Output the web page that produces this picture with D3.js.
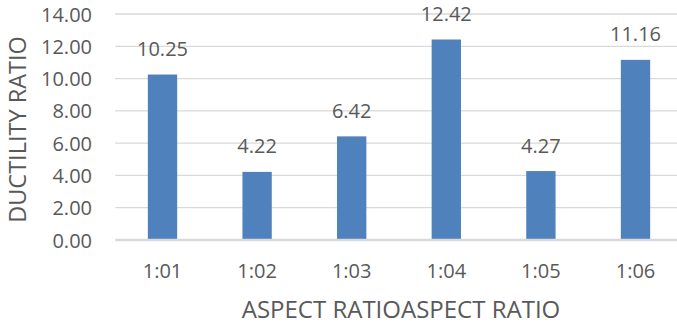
<!DOCTYPE html>
<html lang="en">
<head>
    <meta charset="UTF-8">
    <title>Ductility ratio</title>
    <style>
        body { margin: 0; background: #fff; }
        svg { display: block; }
        text { font-family: "Open Sans", sans-serif; fill: #595959; }
    </style>
</head>
<body>
    <script src="https://cdnjs.cloudflare.com/ajax/libs/d3/7.8.2/d3.min.js"></script>
    <script>

        const categories = ["1:01", "1:02", "1:03", "1:04", "1:05", "1:06"]
        const ductility = [10.25, 4.22, 6.42, 12.42, 4.27, 11.16]
        const yTicks = [0, 2, 4, 6, 8, 10, 12, 14]

        const w = 677
        const h = 326
        const margeGauche = 115.2
        const margeDroite = 682.8
        const margeHaut = 14
        const margeBas = 240

        let svg = d3.select("body")
            .append("svg")
                .attr("width", w)
                .attr("height", h)

        const echelleX = d3.scaleBand()
            .domain(categories)
            .range([margeGauche, margeDroite])
            .paddingInner(0.69)
            .paddingOuter(0.345)

        const echelleY = d3.scaleLinear()
            .domain([0, 14])
            .range([margeBas, margeHaut])

        // grille horizontale
        svg.selectAll("line.grid")
            .data(yTicks.filter(d => d > 0))
            .enter()
            .append("line")
                .attr("class", "grid")
                .attr("x1", margeGauche)
                .attr("x2", w)
                .attr("y1", d => echelleY(d))
                .attr("y2", d => echelleY(d))
                .style("stroke", "#d9d9d9")
                .style("stroke-width", 1.3)

        // étiquettes de l'axe Y
        svg.selectAll("text.ytick")
            .data(yTicks)
            .enter()
            .append("text")
                .attr("class", "ytick")
                .attr("x", 92)
                .attr("y", d => echelleY(d) + 7.5)
                .attr("text-anchor", "end")
                .style("font-size", "20px")
                .text(d => d.toFixed(2))

        // barres
        svg.selectAll("rect")
            .data(ductility)
            .enter()
            .append("rect")
                .attr("x", (d, i) => echelleX(categories[i]))
                .attr("y", d => echelleY(d))
                .attr("width", echelleX.bandwidth())
                .attr("height", d => echelleY(0) - echelleY(d))
                .style("fill", "#4f81bd")

        // axe de base
        svg.append("line")
            .attr("x1", margeGauche)
            .attr("x2", w)
            .attr("y1", echelleY(0))
            .attr("y2", echelleY(0))
            .style("stroke", "#d9d9d9")
            .style("stroke-width", 2.5)

        // valeurs au-dessus des barres
        svg.selectAll("text.valeur")
            .data(ductility)
            .enter()
            .append("text")
                .attr("class", "valeur")
                .attr("x", (d, i) => echelleX(categories[i]) + echelleX.bandwidth() / 2)
                .attr("y", d => echelleY(d) - 18.5)
                .attr("text-anchor", "middle")
                .style("font-size", "20px")
                .text(d => d.toFixed(2))

        // étiquettes de l'axe X
        svg.selectAll("text.xtick")
            .data(categories)
            .enter()
            .append("text")
                .attr("class", "xtick")
                .attr("x", d => echelleX(d) + echelleX.bandwidth() / 2)
                .attr("y", 278)
                .attr("text-anchor", "middle")
                .style("font-size", "20px")
                .text(d => d)

        // titres des axes
        svg.append("text")
            .attr("x", (margeGauche + margeDroite) / 2 + 2)
            .attr("y", 318)
            .attr("text-anchor", "middle")
            .style("font-size", "24px")
            .text("ASPECT RATIOASPECT RATIO")

        svg.append("text")
            .attr("transform", "translate(25.5,129.5) rotate(-90)")
            .attr("text-anchor", "middle")
            .style("font-size", "23.5px")
            .text("DUCTILITY RATIO")

    </script>
</body>
</html>
